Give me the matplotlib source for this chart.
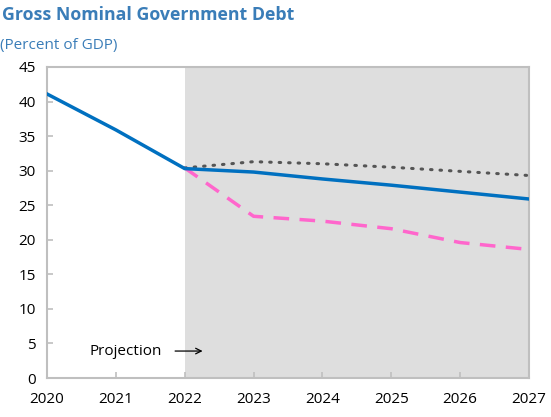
import matplotlib
matplotlib.use("Agg")
import matplotlib.pyplot as plt

years = [2020, 2021, 2022, 2023, 2024, 2025, 2026, 2027]
baseline = [41.1, 35.9, 30.3, 29.8, 28.8, 27.9, 26.9, 25.9]
proj_years = [2022, 2023, 2024, 2025, 2026, 2027]
dotted = [30.4, 31.3, 31.0, 30.5, 29.9, 29.3]
dashed = [30.4, 23.4, 22.7, 21.6, 19.6, 18.6]
yticks = [0, 5, 10, 15, 20, 25, 30, 35, 40, 45]

plt.rcParams['font.family'] = ['Open Sans', 'DejaVu Sans']

fig = plt.figure(figsize=(5.51, 4.17), dpi=100)
ax = fig.add_axes([47/551, 1-378/417, (529-47)/551, (378-67)/417])

ax.axvspan(2022, 2027, color='#DEDEDE', zorder=0, lw=0)
ax.plot(proj_years, dotted, color='#555555', lw=2.2, linestyle=(0, (0.5, 2.6)), dash_capstyle='round', zorder=3)
ax.plot(proj_years, dashed, color='#FF66CC', lw=2.5, linestyle=(0, (4.5, 3)), zorder=3)
ax.plot(years, baseline, color='#0070C0', lw=2.5, zorder=4)

ax.set_xlim(2020, 2027)
ax.set_ylim(0, 45)
ax.set_yticks(yticks)
ax.set_xticks(years)
for s in ax.spines.values():
    s.set_color('#BFBFBF')
    s.set_linewidth(1.5)
ax.tick_params(axis='both', colors='#BFBFBF', labelcolor='black', labelsize=11, length=4, width=1.2)
ax.tick_params(axis='x', direction='in', pad=10)
ax.tick_params(axis='y', direction='in', pad=8)

ax.annotate('', xy=(2022.3, 3.9), xytext=(2021.82, 3.9),
            arrowprops=dict(arrowstyle='->', color='black', lw=0.9))
ax.text(2020.62, 3.9, 'Projection', fontsize=11, va='center', ha='left')

fig.text(2/551, 1-15/417, 'Gross Nominal Government Debt', fontsize=12.8, fontweight='bold',
         color='#3A7DB8', va='center', ha='left')
fig.text(0/551, 1-45/417, '(Percent of GDP)', fontsize=11, color='#3A7DB8', va='center', ha='left')

fig.savefig('out.png', dpi=100)
